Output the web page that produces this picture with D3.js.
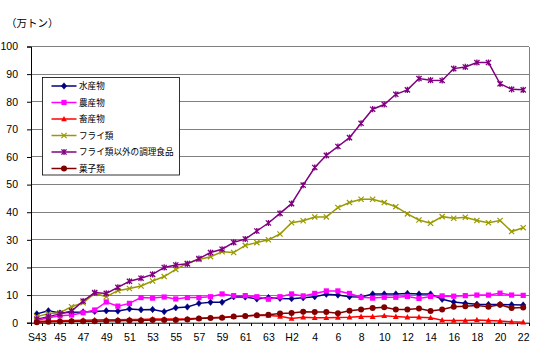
<!DOCTYPE html>
<html><head><meta charset="utf-8">
<script src="https://cdn.jsdelivr.net/npm/d3@7"></script>
<style>
html,body{margin:0;padding:0;background:#fff;}
svg{display:block;}
</style></head>
<body>
<svg id="c" width="537" height="343"></svg>
<script>
const years = ["S43","44","45","46","47","48","49","50","51","52","53","54","55","56","57","58","59","60","61","62","63","H1","H2","3","4","5","6","7","8","9","10","11","12","13","14","15","16","17","18","19","20","21","22"];
const tickLabels = ["S43","45","47","49","51","53","55","57","59","61","63","H2","4","6","8","10","12","14","16","18","20","22"];
const yTicks = [0,10,20,30,40,50,60,70,80,90,100];
const unitLabel = "（万トン）";
const seriesNames = ["水産物","農産物","畜産物","フライ類","フライ類以外の調理食品","菓子類"];

const suisan = [3.2,4.3,3.5,3.8,3.9,4.1,4.3,4.2,5.0,4.7,4.8,4.0,5.4,5.7,7.0,7.4,7.4,9.4,9.3,8.6,9.1,8.8,8.7,9.0,9.4,10.3,10.0,9.4,9.3,10.4,10.4,10.4,10.6,10.4,10.4,8.5,7.5,7.0,6.7,6.6,6.6,6.5,6.4];
const nousan = [0.8,1.8,2.5,2.8,3.6,4.6,7.5,6.0,7.0,9.1,8.9,9.3,8.6,9.1,9.1,9.4,10.4,9.8,9.8,9.4,8.5,9.4,10.4,9.7,10.6,11.5,11.5,10.6,9.2,8.9,9.2,9.2,9.5,8.8,9.5,9.7,9.6,9.8,10.0,10.0,10.7,10.0,9.9];
const chikusan = [0.4,0.6,0.7,0.8,0.9,1.0,1.1,1.1,1.2,1.2,1.3,1.3,1.3,1.4,1.6,1.8,2.0,2.2,2.4,2.7,2.6,2.3,1.5,2.0,1.8,1.8,1.9,2.0,2.2,2.2,2.5,2.2,2.0,2.0,1.8,0.9,0.8,0.8,1.0,0.8,0.6,0.3,0.2];
const fry = [2.2,3.2,3.6,5.8,7.2,10.6,9.4,11.6,12.4,13.3,15.1,16.7,19.3,21.5,22.9,23.9,25.7,25.4,28.0,29.0,30.0,32.1,36.2,36.9,38.3,38.3,41.7,43.5,44.7,44.7,43.5,42.0,39.4,37.2,36.0,38.4,37.8,38.2,37.0,36.2,37.0,33.0,34.4];
const chouri = [1.3,2.2,3.2,4.2,7.8,10.9,10.6,12.8,15.0,16.1,17.5,20.0,20.9,21.3,23.2,25.4,26.6,29.1,30.3,33.2,36.1,39.6,43.1,49.8,56.2,60.6,63.8,67.0,72.2,77.3,79.0,82.7,84.3,88.4,87.8,87.7,92.0,92.6,94.2,94.2,86.5,84.5,84.3];
const kashi = [0.2,0.3,0.4,0.5,0.5,0.5,0.6,0.7,0.8,0.8,1.0,1.0,1.0,1.2,1.5,1.7,1.8,2.2,2.4,2.7,2.9,3.3,3.5,4.0,3.9,3.9,3.4,4.3,4.8,5.3,5.6,4.8,4.8,5.1,4.2,4.8,5.8,6.0,6.2,5.8,6.5,5.3,5.5];

const seriesValues = [suisan, nousan, chikusan, fry, chouri, kashi];
const colors = ["#000080","#FF00FF","#FF0000","#999900","#800080","#800000"];
const markers = ["diamond","square","triangle","x","star","circle"];

const svg = d3.select("#c");
const L = 31, R = 529, T = 46.5, B = 322.7;
const x = d3.scalePoint().domain(years).range([L, R]).padding(0.5);
const y = d3.scaleLinear().domain([0,100]).range([B, T]);
const numFont = "'Liberation Sans', Arial, sans-serif";
const jpFont = "'Noto Sans CJK JP', sans-serif";

// gridlines
svg.append("g").selectAll("line").data(yTicks.filter(d=>d>0)).join("line")
  .attr("x1", L).attr("x2", R).attr("y1", d=>y(d)).attr("y2", d=>y(d))
  .attr("stroke", "#808080").attr("stroke-width", 1).attr("shape-rendering","crispEdges");
// right border
svg.append("line").attr("x1", R).attr("x2", R).attr("y1", T).attr("y2", B)
  .attr("stroke", "#808080").attr("shape-rendering","crispEdges");

// y axis
const yAxis = d3.axisLeft(y).tickValues(yTicks).tickSize(4).tickPadding(9);
const gy = svg.append("g").attr("transform", `translate(${L},0)`).call(yAxis);
gy.select(".domain").attr("stroke", "#000");
gy.selectAll(".tick line").attr("stroke", "#000");
gy.selectAll("text").attr("font-family", numFont).attr("font-size", 10.5).attr("fill", "#000");

// x axis
const evenYears = years.filter((d, i) => i % 2 === 0);
const xAxis = d3.axisBottom(x).tickValues(evenYears).tickFormat((d, k) => tickLabels[k]).tickSize(0).tickPadding(11);
const gx = svg.append("g").attr("transform", `translate(0,${B})`).call(xAxis);
gx.select(".domain").attr("stroke", "#000");
gx.selectAll("text").attr("font-family", numFont).attr("font-size", 10.5).attr("fill", "#000");
// category boundary ticks
const step = x.step();
svg.append("g").selectAll("line").data(d3.range(years.length + 1)).join("line")
  .attr("x1", i => L + i*step).attr("x2", i => L + i*step)
  .attr("y1", B).attr("y2", B + 3).attr("stroke", "#000").attr("shape-rendering","crispEdges");

// unit label
svg.append("text").attr("x", 6).attr("y", 27).text(unitLabel)
  .attr("font-family", jpFont).attr("font-size", 10.5).attr("fill", "#000");

function drawMarker(g, type, color, cx, cy) {
  const s = 2.6;
  if (type === "diamond") {
    g.append("path").attr("d", `M${cx},${cy-s-0.6}L${cx+s},${cy}L${cx},${cy+s+0.6}L${cx-s},${cy}Z`).attr("fill", color).attr("stroke", color).attr("stroke-width", 0.6);
  } else if (type === "square") {
    g.append("rect").attr("x", cx-s).attr("y", cy-s).attr("width", 2*s).attr("height", 2*s).attr("fill", color);
  } else if (type === "triangle") {
    g.append("path").attr("d", `M${cx},${cy-s-0.5}L${cx+s+0.3},${cy+s-0.3}L${cx-s-0.3},${cy+s-0.3}Z`).attr("fill", color);
  } else if (type === "x") {
    g.append("path").attr("d", `M${cx-s},${cy-s}L${cx+s},${cy+s}M${cx-s},${cy+s}L${cx+s},${cy-s}`).attr("stroke", color).attr("stroke-width", 1.2).attr("fill","none");
  } else if (type === "star") {
    g.append("path").attr("d", `M${cx-s},${cy-s}L${cx+s},${cy+s}M${cx-s},${cy+s}L${cx+s},${cy-s}M${cx},${cy-s-0.5}L${cx},${cy+s+0.5}`).attr("stroke", color).attr("stroke-width", 1.3).attr("fill","none");
  } else if (type === "circle") {
    g.append("circle").attr("cx", cx).attr("cy", cy).attr("r", s+0.4).attr("fill", color);
  }
}

const line = d3.line().x((d,i)=>x(years[i])).y(d=>y(d));
seriesValues.forEach((vals, si) => {
  const g = svg.append("g");
  g.append("path").datum(vals).attr("d", line).attr("fill","none")
    .attr("stroke", colors[si]).attr("stroke-width", 1.5);
  vals.forEach((v, i) => drawMarker(g, markers[si], colors[si], x(years[i]), y(v)));
});

// legend
const lg = svg.append("g");
lg.append("rect").attr("x", 42.5).attr("y", 77.5).attr("width", 137).attr("height", 97.5)
  .attr("fill", "#fff").attr("stroke", "#000").attr("stroke-width", 0.8);
seriesNames.forEach((name, si) => {
  const cy = 86 + si*16.5;
  lg.append("line").attr("x1", 51.5).attr("x2", 76.5).attr("y1", cy).attr("y2", cy)
    .attr("stroke", colors[si]).attr("stroke-width", 1.5);
  drawMarker(lg, markers[si], colors[si], 64, cy);
  lg.append("text").attr("x", 79).attr("y", cy).attr("dy", "0.35em").text(name)
    .attr("font-family", jpFont).attr("font-size", 8.6).attr("fill", "#000");
});
</script>
</body></html>
